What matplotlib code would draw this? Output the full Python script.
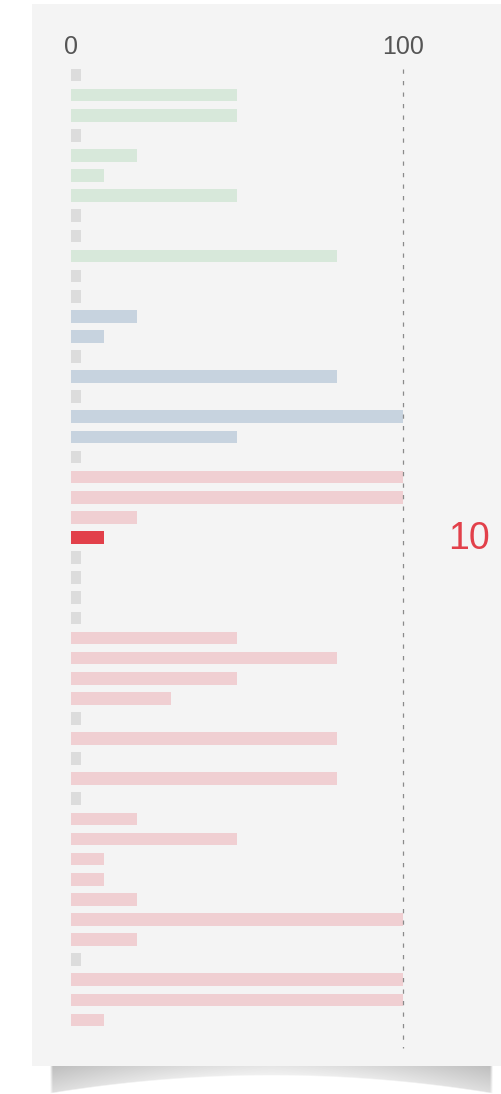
import numpy as np
import matplotlib
matplotlib.use("Agg")
import matplotlib.pyplot as plt
from matplotlib.patches import Rectangle

plt.rcParams['font.family'] = ['Liberation Sans', 'DejaVu Sans']

# Scores per row (0 = no score); group of each row; the highlighted row
values = [0, 50, 50, 0, 20, 10, 50, 0, 0, 80, 0, 0,
          20, 10, 0, 80, 0, 100, 50, 0,
          100, 100, 20, 10, 0, 0, 0, 0, 50, 80, 50, 30, 0, 80, 0, 80, 0,
          20, 50, 10, 10, 20, 100, 20, 0, 100, 100, 10]
groups = ["green"] * 12 + ["blue"] * 8 + ["red"] * 28
highlight = 23
tick_values = [0, 100]
tick_labels = ["0", "100"]

group_colors = {"green": "#d7e8da", "blue": "#c7d3df", "red": "#f0cfd2"}
empty_color = "#dcdcdc"
highlight_color = "#e2404a"
empty_width = 3

W, H, DPI = 501, 1094, 100
fig = plt.figure(figsize=(W / DPI, H / DPI), dpi=DPI)
fig.patch.set_facecolor("white")

# background layer in pixel coordinates: card and its curled shadow
bg = fig.add_axes([0, 0, 1, 1], zorder=-1)
bg.set_xlim(0, W)
bg.set_ylim(H, 0)
bg.axis("off")
bg.add_patch(Rectangle((32, 4), W - 32, 1062, facecolor="#f4f4f4", edgecolor="none"))

sx0, sx1, sy0, sy1 = 50, 493, 1066, 1094
xs = np.arange(sx0, sx1) + 0.5
ys = np.arange(sy0, sy1) + 0.5
X, Y = np.meshgrid(xs, ys)
t = (X - (sx0 + sx1) / 2) / ((sx1 - sx0) / 2)
yb = 1076 + 18 * t ** 2
frac = np.clip((Y - sy0) / (yb - sy0), 0, 1)
inside = np.clip((yb - Y) / 1.5, 0, 1)
edge = 0.40 + 0.60 * np.abs(t) ** 1.4
alpha = 0.26 * edge * (1 - 0.5 * frac) * inside
alpha *= np.clip((X - sx0) / 3, 0, 1) * np.clip((sx1 - X) / 3, 0, 1)
img = np.zeros(X.shape + (4,))
img[..., 3] = alpha
bg.imshow(img, extent=(sx0, sx1, sy1, sy0), interpolation="bilinear", aspect="auto")

# main bar chart: 0..100 spans x = 71..403 px, rows 75..1020 px
n = len(values)
pitch = (1020 - 75) / (n - 1)
ax_left = 71 / W
ax_width = (403 - 71) / W
ax_top = 75 - pitch / 2
ax_bottom = 1020 + pitch / 2
ax = fig.add_axes([ax_left, 1 - ax_bottom / H, ax_width, (ax_bottom - ax_top) / H])
ax.set_facecolor("none")
ax.set_xlim(0, 100)
ax.set_ylim(n - 0.5, -0.5)
for s in ax.spines.values():
    s.set_visible(False)

rows = np.arange(n)
widths = [v if v > 0 else empty_width for v in values]
colors = []
for i, (v, g) in enumerate(zip(values, groups)):
    if i == highlight:
        colors.append(highlight_color)
    elif v == 0:
        colors.append(empty_color)
    else:
        colors.append(group_colors[g])
ax.barh(rows, widths, height=0.63, color=colors, zorder=2)

# reference line at 100
ax.plot([100, 100], [-0.3, n + 0.4], color="#8a8a8a", lw=0.9,
        dashes=(3.4, 5.8), clip_on=False, zorder=3)

ax.xaxis.tick_top()
ax.set_xticks(tick_values)
ax.set_xticklabels(tick_labels)
ax.tick_params(axis="x", length=0, pad=4.5, labelsize=18, labelcolor="#555555")
ax.set_yticks([])

# value label of the highlighted row
ax.text(1.2, highlight + 0.08, f"{values[highlight]}", transform=ax.get_yaxis_transform(),
        ha="center", va="center", fontsize=27, color=highlight_color, clip_on=False)

fig.savefig("out.png", dpi=DPI, facecolor="white")
